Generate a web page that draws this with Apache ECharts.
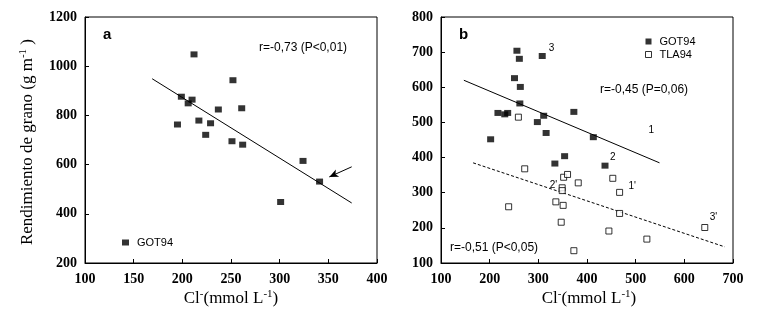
<!DOCTYPE html>
<html><head><meta charset="utf-8">
<script src="https://cdn.jsdelivr.net/npm/echarts@6/dist/echarts.min.js"></script>
<style>html,body{margin:0;padding:0;background:#fff}#c{width:764px;height:323px}</style>
</head><body><div id="c"></div>
<script>
// Panel a (GOT94)
const leftX = [212, 252, 199, 210, 206, 237, 261, 195, 217, 229, 224, 251, 262, 324, 341, 301];
const leftY = [1048, 943, 876, 864, 849, 824, 829, 763, 779, 768, 721, 695, 681, 615, 531, 448];
const leftFit = [[169, 949], [374, 444]];
const leftArrow = [[374, 591], [351, 550]];
// Panel b
const gotX = [256, 261, 308, 251, 263, 262, 217, 231, 237, 311, 373, 298, 316, 202, 413, 354, 334, 437];
const gotY = [704, 681, 689, 626, 601, 554, 527, 523, 527, 519, 530, 501, 470, 452, 458, 404, 383, 377];
const tlaX = [259, 272, 352, 360, 382, 453, 349, 349, 467, 336, 351, 239, 467, 347, 445, 523, 373, 642];
const tlaY = [515, 368, 344, 352, 328, 341, 314, 306, 301, 274, 264, 260, 241, 216, 191, 168, 135, 201];
const gotFit = [[147, 620], [549, 385]];
const tlaFit = [[166, 385], [683, 146]];
const ptLabels = ['3', '1', '2', "1'", "2'", "3'"];
const ptLabelX = [327, 532, 453, 493, 331, 660];
const ptLabelY = [710, 478, 402, 317, 321, 230];
// Axes
const xTicksA = [100, 150, 200, 250, 300, 350, 400];
const yTicksA = [200, 400, 600, 800, 1000, 1200];
const xTicksB = [100, 200, 300, 400, 500, 600, 700];
const yTicksB = [100, 200, 300, 400, 500, 600, 700, 800];

const zip = (a, b) => a.map((v, i) => [v, b[i]]);
const tickFont = {fontFamily: 'Liberation Serif', fontWeight: 'bold', fontSize: 14, color: '#000', formatter: v => String(v)};
const sansFont = 'Liberation Sans';

function xAx(idx, ticks) {
  return {gridIndex: idx, type: 'value', min: ticks[0], max: ticks[ticks.length - 1],
    interval: ticks[1] - ticks[0],
    axisLine: {show: true, onZero: false, lineStyle: {color: '#000', width: 1}},
    axisTick: {show: true, inside: true, length: 4, lineStyle: {color: '#000'}},
    axisLabel: Object.assign({margin: 9}, tickFont),
    splitLine: {show: false}};
}
function yAx(idx, ticks) {
  return {gridIndex: idx, type: 'value', min: ticks[0], max: ticks[ticks.length - 1],
    interval: ticks[1] - ticks[0],
    axisLine: {show: true, onZero: false, lineStyle: {color: '#000', width: 1}},
    axisTick: {show: true, inside: true, length: 4, lineStyle: {color: '#000'}},
    axisLabel: Object.assign({margin: 8}, tickFont),
    splitLine: {show: false}};
}
const filled = {color: '#000'};
const open = {color: '#fff', borderColor: '#000', borderWidth: 1};
const fitLine = (xi, data, dashed) => ({type: 'line', xAxisIndex: xi, yAxisIndex: xi, data: data,
  symbol: 'none', silent: true, z: 1,
  lineStyle: {color: '#000', width: 1, type: dashed ? [3, 2] : 'solid'}});

const nameRich = {
  n: {fontFamily: 'Liberation Serif', fontSize: 17, color: '#000', lineHeight: 20},
  s: {fontFamily: 'Liberation Serif', fontSize: 11, color: '#000', lineHeight: 12, verticalAlign: 'top'}
};
const legendText = {fontFamily: sansFont, fontSize: 11, color: '#000', padding: [0, 0, 0, 3]};

const chart = echarts.init(document.getElementById('c'), null, {renderer: 'canvas'});
chart.setOption({
  animation: false,
  backgroundColor: '#fff',
  grid: [
    {left: 85, top: 17, width: 292, height: 246, show: true, borderColor: '#000', borderWidth: 1, backgroundColor: 'transparent'},
    {left: 441, top: 17, width: 292, height: 246, show: true, borderColor: '#000', borderWidth: 1, backgroundColor: 'transparent'}
  ],
  xAxis: [xAx(0, xTicksA), xAx(1, xTicksB)],
  yAxis: [yAx(0, yTicksA), yAx(1, yTicksB)],
  legend: [
    {left: 117, top: 232, itemWidth: 7, itemHeight: 6, itemGap: 4, selectedMode: false,
      data: [{name: 'GOT94', icon: 'rect', itemStyle: {color: '#000', borderWidth: 0}}],
      textStyle: legendText},
    {left: 640, top: 30, orient: 'vertical', itemWidth: 6, itemHeight: 6, itemGap: 0, selectedMode: false,
      data: [{name: 'GOT94', icon: 'rect', itemStyle: {color: '#000', borderWidth: 0}},
             {name: 'TLA94', icon: 'rect', itemStyle: {color: '#fff', borderColor: '#000', borderWidth: 1}}],
      textStyle: Object.assign({lineHeight: 13}, legendText)}
  ],
  series: [
    {name: 'GOT94', type: 'scatter', xAxisIndex: 0, yAxisIndex: 0, symbol: 'rect', symbolSize: [7, 6],
      data: zip(leftX, leftY), itemStyle: filled, z: 3},
    fitLine(0, leftFit, false),
    {type: 'line', xAxisIndex: 0, yAxisIndex: 0, data: [], symbol: 'none', silent: true,
      markLine: {silent: true, symbol: ['none', 'arrow'], symbolSize: [6, 9], label: {show: false},
        lineStyle: {color: '#000', width: 1, type: 'solid'},
        data: [[{coord: leftArrow[0]}, {coord: leftArrow[1]}]]}},
    {name: 'GOT94', type: 'scatter', xAxisIndex: 1, yAxisIndex: 1, symbol: 'rect', symbolSize: [7, 6],
      data: zip(gotX, gotY), itemStyle: filled, z: 3},
    {name: 'TLA94', type: 'scatter', xAxisIndex: 1, yAxisIndex: 1, symbol: 'rect', symbolSize: [6, 6],
      data: zip(tlaX, tlaY), itemStyle: open, z: 3},
    fitLine(1, gotFit, false),
    fitLine(1, tlaFit, true),
    {type: 'scatter', xAxisIndex: 1, yAxisIndex: 1, symbol: 'circle', symbolSize: 1, silent: true,
      itemStyle: {color: 'rgba(0,0,0,0)'},
      data: ptLabels.map((t, i) => ({value: [ptLabelX[i], ptLabelY[i]], label: {formatter: t}})),
      label: {show: true, position: 'inside', fontFamily: sansFont, fontSize: 10, color: '#000', opacity: 1}, z: 4}
  ],
  graphic: [
    {type: 'text', left: 103, top: 27, style: {text: 'a', font: 'bold 15px "Liberation Sans"', fill: '#000'}},
    {type: 'text', left: 459, top: 27, style: {text: 'b', font: 'bold 15px "Liberation Sans"', fill: '#000'}},
    {type: 'text', left: 259, top: 42, style: {text: 'r=-0,73 (P<0,01)', font: '12px "Liberation Sans"', fill: '#000'}},
    {type: 'text', left: 600, top: 84, style: {text: 'r=-0,45 (P=0,06)', font: '12px "Liberation Sans"', fill: '#000'}},
    {type: 'text', left: 450, top: 242, style: {text: 'r=-0,51 (P<0,05)', font: '12px "Liberation Sans"', fill: '#000'}},
    {type: 'text', x: 28, y: 142, rotation: Math.PI / 2,
      style: {text: '{n|Rendimiento de grano (g m}{s|-1}{n| )}', rich: nameRich, align: 'center', verticalAlign: 'middle'}},
    {type: 'text', x: 231, y: 299,
      style: {text: '{n|Cl}{s|-}{n|(mmol L}{s|-1}{n|)}', rich: nameRich, align: 'center', verticalAlign: 'middle'}},
    {type: 'text', x: 589, y: 299,
      style: {text: '{n|Cl}{s|-}{n|(mmol L}{s|-1}{n|)}', rich: nameRich, align: 'center', verticalAlign: 'middle'}}
  ]
});
</script></body></html>
